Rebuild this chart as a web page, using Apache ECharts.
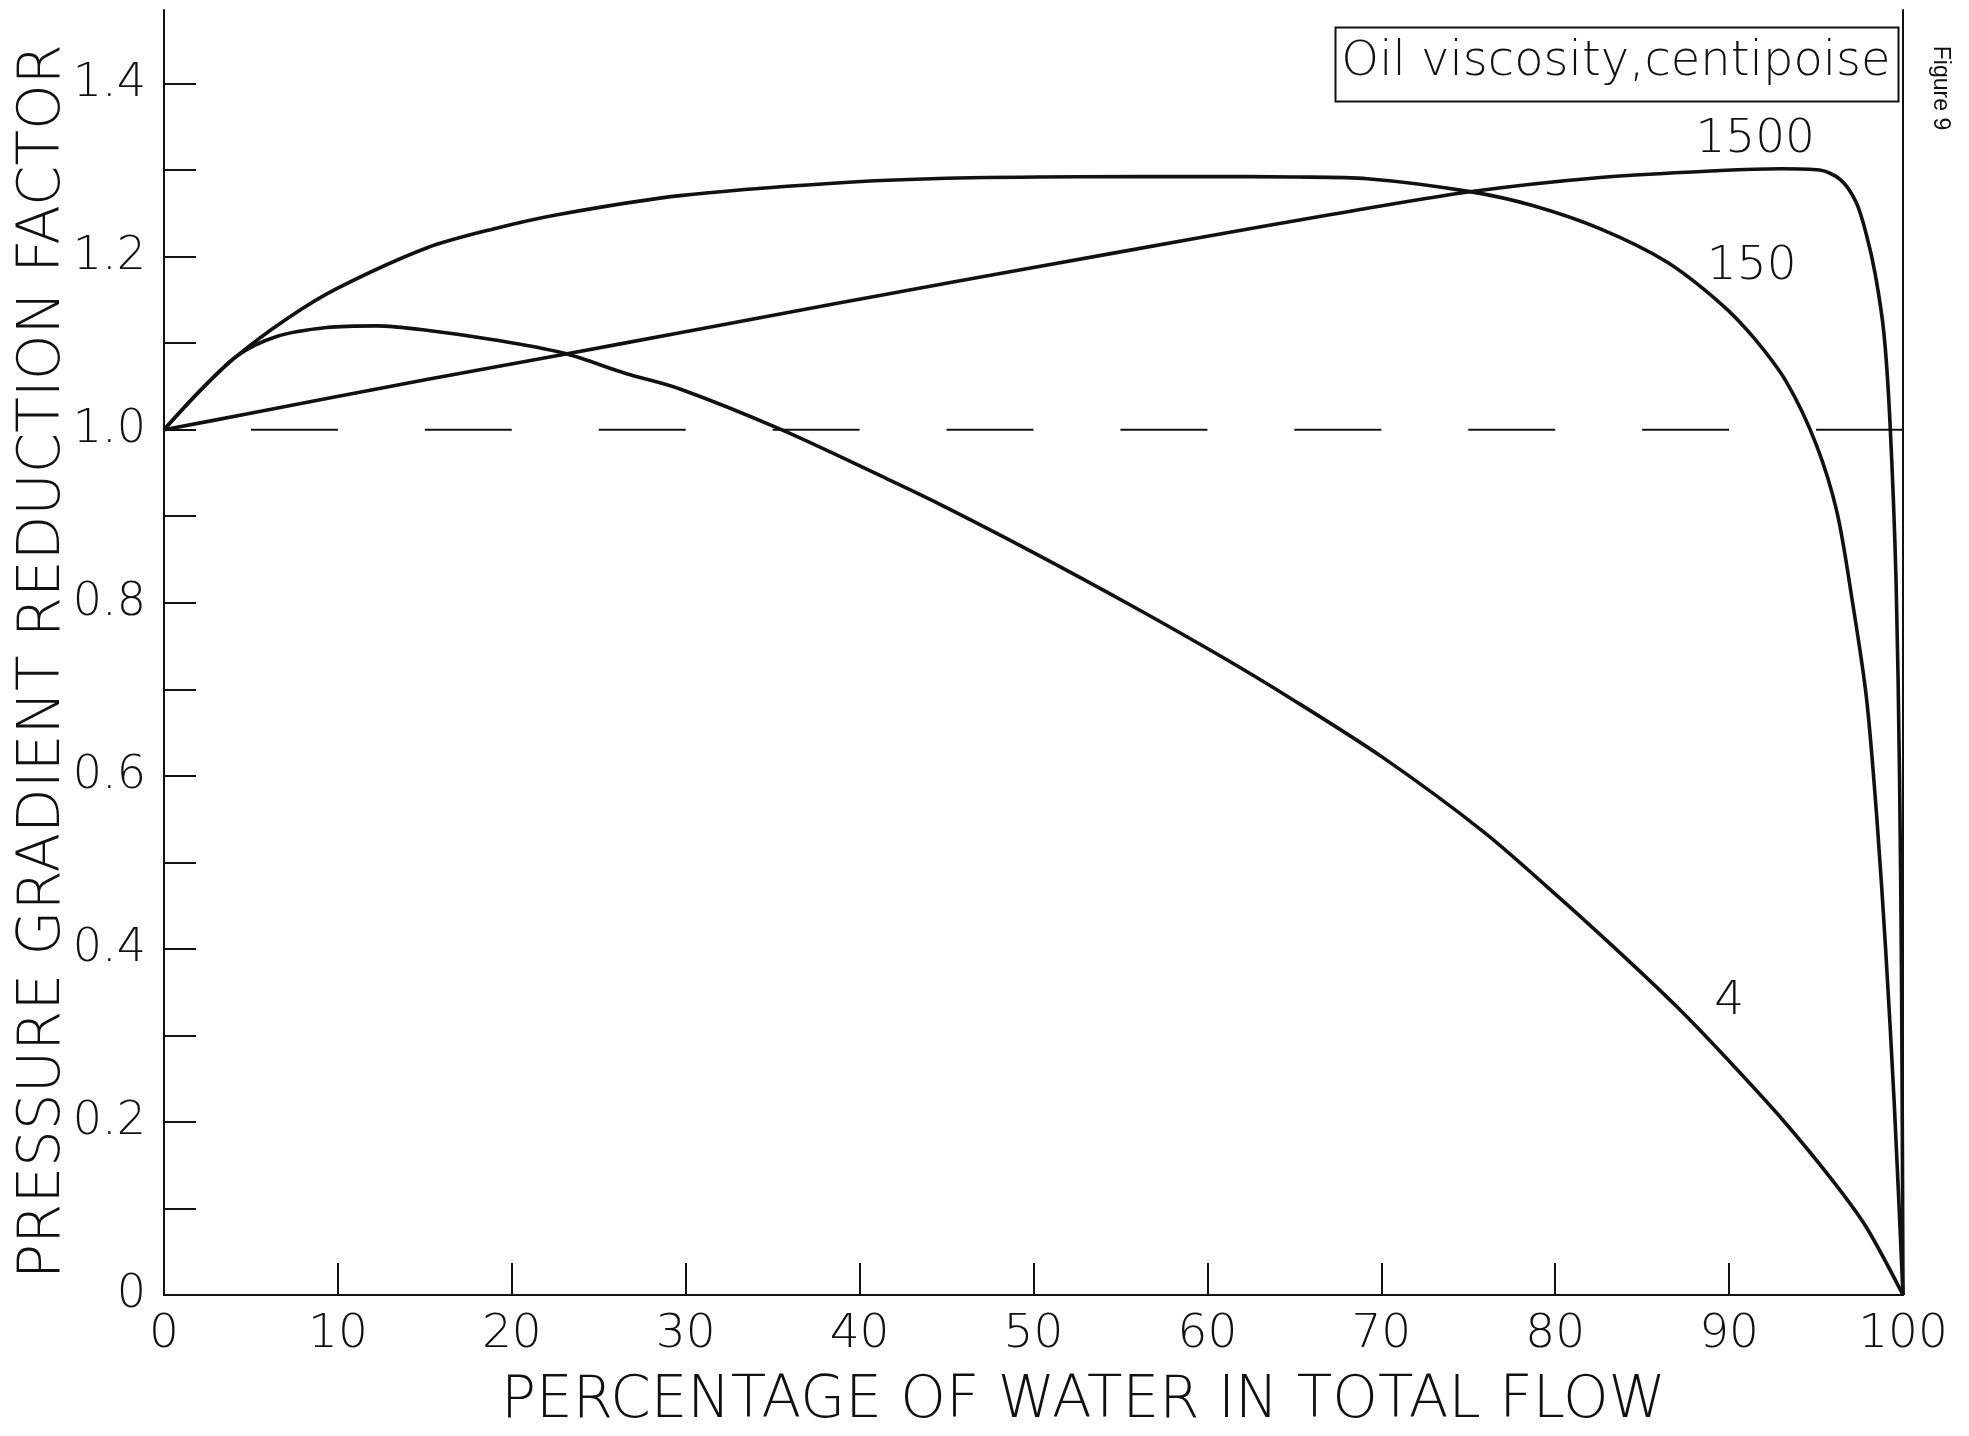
<!DOCTYPE html>
<html>
<head>
<meta charset="utf-8">
<script src="https://cdn.jsdelivr.net/npm/echarts@6/dist/echarts.min.js"></script>
<style>
html,body{margin:0;padding:0;background:#fff;}
#chart{width:1969px;height:1436px;}
</style>
</head>
<body>
<div id="chart"></div>
<script>
// ---- data ----
const visc1500X = [0, 4.75, 9.36, 15.1, 22.96, 29.67, 35.5, 41.94, 49.6, 59.6, 67.2, 75.1, 82.6, 89.5, 93.0, 95.2, 96.4, 97.3, 97.9, 98.4, 98.9, 99.25, 99.6, 99.8, 99.92, 100];
const visc1500Y = [1.0, 1.018, 1.036, 1.058, 1.087, 1.112, 1.134, 1.158, 1.186, 1.222, 1.249, 1.275, 1.2915, 1.2995, 1.3015, 1.300, 1.289, 1.263, 1.225, 1.180, 1.112, 1.009, 0.826, 0.600, 0.350, 0];

const visc150X = [0, 2.07, 4.18, 7.05, 9.93, 15.1, 18.94, 22.77, 29.67, 38.68, 45.0, 52.67, 59.57, 65.0, 69.2, 75.1, 78.7, 82.6, 86.4, 89.5, 91.4, 93.3, 95.0, 96.2, 97.1, 97.9, 98.5, 99.0, 99.5, 100];
const visc150Y = [1.0, 1.045, 1.085, 1.128, 1.163, 1.210, 1.232, 1.249, 1.2705, 1.2851, 1.2905, 1.2923, 1.2925, 1.292, 1.2900, 1.2751, 1.259, 1.232, 1.194, 1.146, 1.1066, 1.055, 0.9834, 0.905, 0.8003, 0.690, 0.550, 0.400, 0.220, 0];

const visc4X = [0, 2.07, 4.18, 6.48, 9.36, 12.23, 15.1, 18.94, 22.96, 26.6, 29.67, 35.5, 41.5, 44.2, 50.0, 55.7, 60.7, 64.75, 70.1, 75.9, 80.3, 84.5, 87.0, 89.5, 93.1, 96.0, 97.9, 100];
const visc4Y = [1.0, 1.045, 1.085, 1.1077, 1.118, 1.120, 1.115, 1.104, 1.0885, 1.0647, 1.047, 1.0, 0.944, 0.918, 0.858, 0.796, 0.739, 0.690, 0.621, 0.535, 0.458, 0.381, 0.333, 0.281, 0.202, 0.131, 0.078, 0];

const referenceX = [0, 100];
const referenceY = [1.0, 1.0];

const curveNames = ['1500', '150', '4'];
const curveLabelX = [91.5, 91.3, 90.0];
const curveLabelY = [1.335, 1.188, 0.339];

const xTickLabels = [0, 10, 20, 30, 40, 50, 60, 70, 80, 90, 100];
const yTickValues = [0, 0.1, 0.2, 0.3, 0.4, 0.5, 0.6, 0.7, 0.8, 0.9, 1.0, 1.1, 1.2, 1.3, 1.4];
const yLabelValues = [0, 0.2, 0.4, 0.6, 0.8, 1.0, 1.2, 1.4];

const xTitle = 'PERCENTAGE OF WATER IN TOTAL FLOW';
const yTitle = 'PRESSURE GRADIENT REDUCTION FACTOR';
const boxTitle = 'Oil viscosity,centipoise';
const figTag = 'Figure 9';

// ---- helpers ----
function zip(xs, ys) { return xs.map((x, i) => [x, ys[i]]); }

const FONT = "'DejaVu Sans', 'Noto Sans', sans-serif";
const INK = '#111';

function curve(name, xs, ys, idx) {
  return {
    name: name,
    type: 'line',
    data: zip(xs, ys),
    symbol: 'none',
    smooth: 0.3,
    lineStyle: { color: INK, width: 3.6 },
    z: 3,
    silent: true,
    markPoint: {
      symbol: 'circle',
      symbolSize: 0,
      itemStyle: { color: 'rgba(0,0,0,0)' },
      label: {
        show: true, position: 'inside', color: INK,
        fontFamily: FONT, fontWeight: 200, fontSize: 47,
        formatter: name
      },
      data: [{ coord: [curveLabelX[idx], curveLabelY[idx]] }]
    }
  };
}

const chart = echarts.init(document.getElementById('chart'), null, { renderer: 'canvas' });

const option = {
  backgroundColor: '#ffffff',
  animation: false,
  grid: { left: 164, top: 10, width: 1739, height: 1285, containLabel: false, outerBoundsMode: 'none' },
  xAxis: {
    type: 'value', min: 0, max: 100, interval: 10,
    name: xTitle, nameLocation: 'middle', nameGap: 78, nameMoveOverlap: false,
    nameTextStyle: { fontFamily: FONT, fontWeight: 200, fontSize: 58, color: INK, padding: [0, 0, 0, 100] },
    axisLine: { show: true, onZero: false, lineStyle: { color: INK, width: 2 } },
    axisTick: { show: true, inside: true, length: 32, lineStyle: { color: INK, width: 2 } },
    axisLabel: { show: true, margin: 16, fontFamily: FONT, fontWeight: 200, fontSize: 47, color: INK,
      customValues: xTickLabels },
    splitLine: { show: false }
  },
  yAxis: [{
    type: 'value', min: 0, max: 1.485,
    name: yTitle, nameLocation: 'middle', nameGap: 91, nameMoveOverlap: false,
    nameTextStyle: { fontFamily: FONT, fontWeight: 200, fontSize: 58, color: INK, padding: [0, 18, 0, 0] },
    axisLine: { show: true, onZero: false, lineStyle: { color: INK, width: 2 } },
    axisTick: { show: true, inside: true, length: 32, lineStyle: { color: INK, width: 2 }, customValues: yTickValues },
    axisLabel: { show: true, margin: 18, fontFamily: FONT, fontWeight: 200, fontSize: 46, color: INK,
      customValues: yLabelValues,
      formatter: v => (v === 0 ? '0' : v.toFixed(1)) },
    splitLine: { show: false }
  }, {
    type: 'value', min: 0, max: 1.485, position: 'right',
    axisLine: { show: true, onZero: false, lineStyle: { color: INK, width: 2 } },
    axisTick: { show: false }, axisLabel: { show: false }, splitLine: { show: false }
  }],
  series: [
    {
      name: 'reference', type: 'line', data: zip(referenceX, referenceY), symbol: 'none', silent: true,
      lineStyle: { color: INK, width: 2, type: [86.95, 86.95], dashOffset: 86.95 }, z: 2
    },
    curve(curveNames[0], visc1500X, visc1500Y, 0),
    curve(curveNames[1], visc150X, visc150Y, 1),
    curve(curveNames[2], visc4X, visc4Y, 2)
  ],
  graphic: [
    { type: 'rect', left: 1333, top: 25, shape: { width: 563, height: 74 },
      style: { fill: 'none', stroke: INK, lineWidth: 2 }, z: 10 },
    { type: 'text', x: 1616, y: 63,
      style: { text: boxTitle, fill: INK, font: "200 48px 'DejaVu Sans', sans-serif", align: 'center', verticalAlign: 'middle' }, z: 10 },
    { type: 'text', x: 1940, y: 88, rotation: -Math.PI / 2,
      style: { text: figTag, fill: INK, font: "23px 'Liberation Sans', Arial, sans-serif", align: 'center', verticalAlign: 'middle' }, z: 10 }
  ]
};

chart.setOption(option);
</script>
</body>
</html>
